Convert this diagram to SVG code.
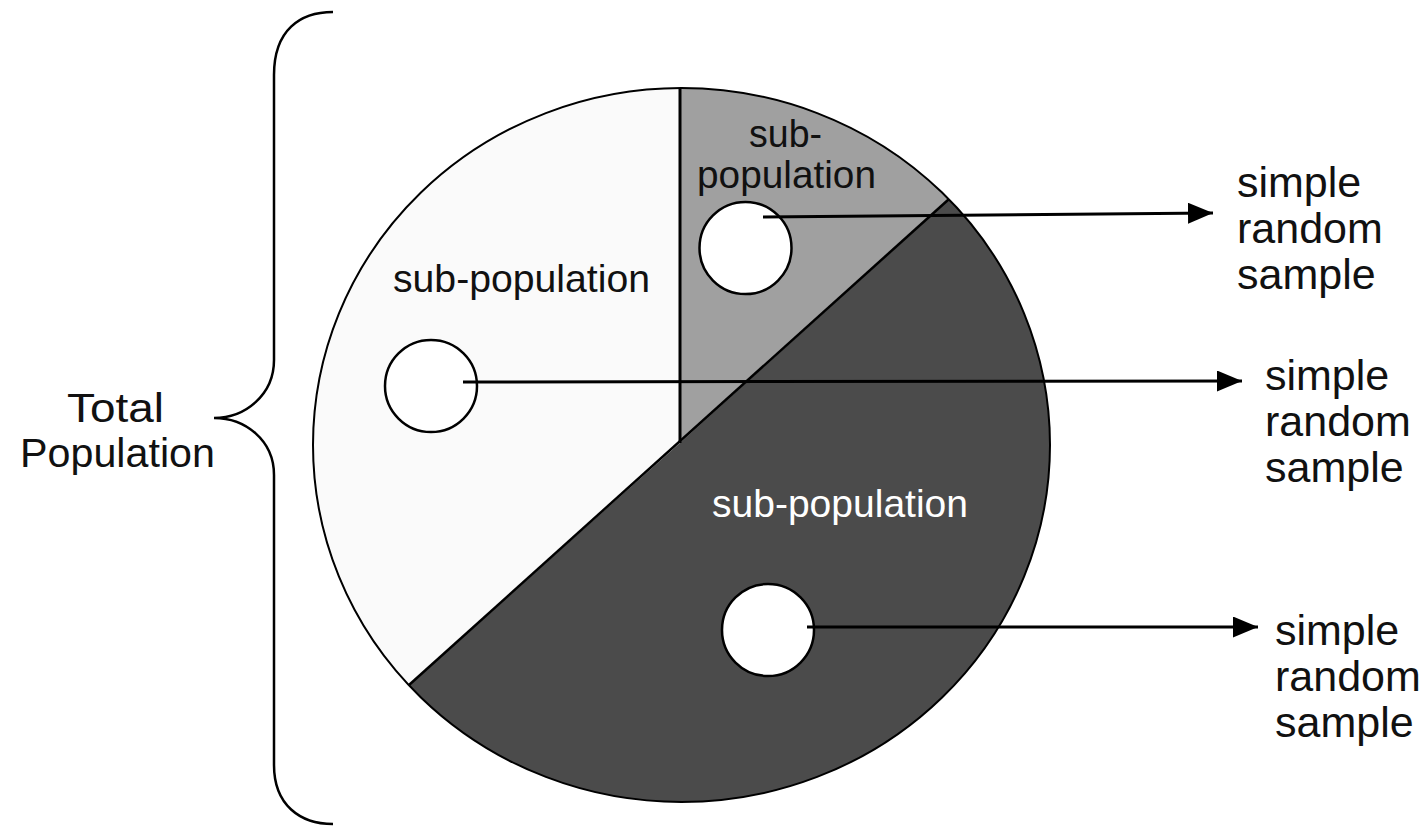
<svg xmlns="http://www.w3.org/2000/svg" width="1427" height="826" viewBox="0 0 1427 826">
  <style>
    .lbl { font-family: "Liberation Sans", Arial, sans-serif; fill: #111; }
    .sec { stroke: none; }
    .edge { fill: none; stroke: #000; stroke-width: 2.5; }
    .samp { fill: #fff; stroke: #000; stroke-width: 2.5; }
    .conn { fill: none; stroke: #000; stroke-width: 3; }
  </style>
  <defs>
    <marker id="arrow" markerUnits="userSpaceOnUse" markerWidth="26" markerHeight="22" refX="25" refY="10.5" orient="auto">
      <path d="M0,0 L25,10.5 L0,21 Z" fill="#000"/>
    </marker>
  </defs>
  <rect width="1427" height="826" fill="#fff"/>

  <g id="total-population">
    <path class="edge" d="M333,12 C300,12 274,30 274,75 L274,360 C274,395 245,418 214,418 C245,418 274,440 274,475 L274,765 C274,805 300,824 333,824"/>
    <text class="lbl" x="67" y="422" font-size="41" textLength="97" lengthAdjust="spacingAndGlyphs">Total</text>
    <text class="lbl" x="20" y="467" font-size="41" textLength="195" lengthAdjust="spacingAndGlyphs">Population</text>
  </g>

  <g id="population-circle">
    <ellipse cx="681.5" cy="445" rx="368.5" ry="357" fill="#4b4b4b"/>
    <g id="sub-population-left">
      <path class="sec" fill="#fafafa" d="M680,443 L680,88 A368.5,357 0 0,0 409,685 Z"/>
      <text class="lbl" x="393" y="292" font-size="39" textLength="257" lengthAdjust="spacingAndGlyphs">sub-population</text>
    </g>
    <g id="sub-population-top">
      <path class="sec" fill="#a0a0a0" d="M680,443 L680,88 A368.5,357 0 0,1 948.5,199.5 Z"/>
      <text class="lbl" x="749" y="147" font-size="39" textLength="73" lengthAdjust="spacingAndGlyphs">sub-</text>
      <text class="lbl" x="697" y="188" font-size="39" textLength="179" lengthAdjust="spacingAndGlyphs">population</text>
    </g>
    <g id="sub-population-dark">
      <text class="lbl" x="712" y="517" font-size="39" textLength="256" lengthAdjust="spacingAndGlyphs" style="fill:#fff">sub-population</text>
    </g>
    <ellipse class="edge" cx="681.5" cy="445" rx="368.5" ry="357" style="stroke-width:2"/>
    <line class="edge" x1="680" y1="88" x2="680" y2="443" style="stroke-width:3"/>
    <line class="edge" x1="948.5" y1="199.5" x2="409" y2="685"/>
  </g>

  <g id="sample-top">
    <circle class="samp" cx="745.5" cy="248" r="46"/>
  </g>
  <g id="sample-left">
    <circle class="samp" cx="431" cy="386" r="46"/>
  </g>
  <g id="sample-bottom">
    <circle class="samp" cx="768" cy="630" r="46"/>
  </g>

  <g id="connectors">
    <line class="conn" x1="763" y1="217" x2="1213" y2="213" marker-end="url(#arrow)"/>
    <line class="conn" x1="463" y1="382" x2="1242" y2="381" marker-end="url(#arrow)"/>
    <line class="conn" x1="807" y1="627" x2="1258" y2="627" marker-end="url(#arrow)"/>
  </g>

  <g id="result-1">
    <text class="lbl" font-size="43"><tspan x="1237" y="197">simple</tspan><tspan x="1237" y="243">random</tspan><tspan x="1237" y="289">sample</tspan></text>
  </g>
  <g id="result-2">
    <text class="lbl" font-size="43"><tspan x="1265" y="390">simple</tspan><tspan x="1265" y="436">random</tspan><tspan x="1265" y="482">sample</tspan></text>
  </g>
  <g id="result-3">
    <text class="lbl" font-size="43"><tspan x="1275" y="645">simple</tspan><tspan x="1275" y="691">random</tspan><tspan x="1275" y="737">sample</tspan></text>
  </g>
</svg>
